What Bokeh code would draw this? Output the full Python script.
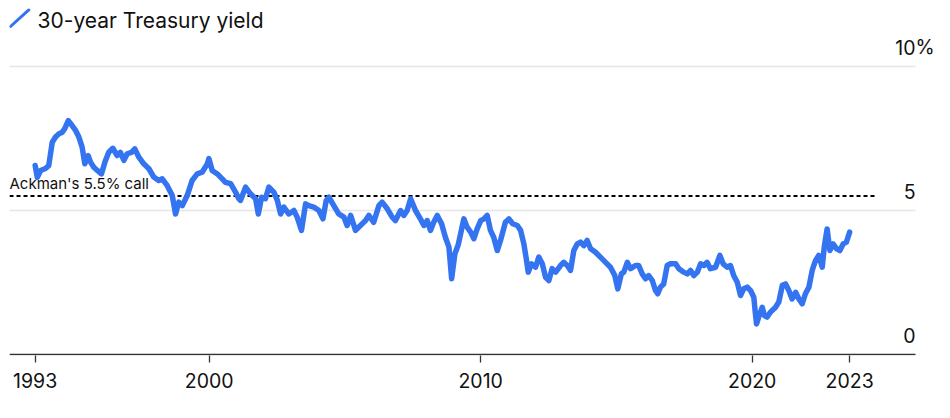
from bokeh.plotting import figure
from bokeh.models import FixedTicker, Range1d
from bokeh.core.properties import value
from bokeh.embed import file_html
from bokeh.resources import INLINE

# ---------------- data ----------------
TITLE = "30-year Treasury yield"
ANNOT = "Ackman's 5.5% call"
ACKMAN_CALL = 5.5

YEARS = [
    1993.59, 1993.67, 1993.79, 1993.97, 1994.09, 1994.22, 1994.34, 1994.46, 1994.59, 1994.68,
    1994.81, 1994.95, 1995.08, 1995.20, 1995.32, 1995.42, 1995.54, 1995.63, 1995.75, 1995.88,
    1996.03, 1996.16, 1996.30, 1996.45, 1996.61, 1996.73, 1996.86, 1996.98, 1997.14, 1997.26,
    1997.41, 1997.59, 1997.78, 1997.96, 1998.14, 1998.27, 1998.45, 1998.64, 1998.76, 1998.88,
    1999.01, 1999.19, 1999.37, 1999.56, 1999.74, 1999.93, 1999.99, 2000.11, 2000.30, 2000.48,
    2000.60, 2000.79, 2000.97, 2001.09, 2001.15, 2001.34, 2001.52, 2001.71, 2001.81, 2001.93,
    2002.07, 2002.20, 2002.38, 2002.51, 2002.63, 2002.75, 2002.93, 2003.12, 2003.24, 2003.40,
    2003.55, 2003.67, 2003.85, 2004.04, 2004.19, 2004.31, 2004.41, 2004.59, 2004.77, 2004.96,
    2005.08, 2005.21, 2005.39, 2005.57, 2005.76, 2005.88, 2006.06, 2006.25, 2006.37, 2006.56,
    2006.74, 2006.86, 2007.05, 2007.17, 2007.29, 2007.42, 2007.60, 2007.78, 2007.91, 2008.03,
    2008.15, 2008.27, 2008.40, 2008.56, 2008.70, 2008.83, 2008.93, 2009.05, 2009.17, 2009.38,
    2009.50, 2009.63, 2009.75, 2009.87, 2010.00, 2010.12, 2010.24, 2010.36, 2010.48, 2010.61,
    2010.73, 2010.91, 2011.04, 2011.18, 2011.35, 2011.47, 2011.59, 2011.68, 2011.75, 2011.87,
    2012.02, 2012.14, 2012.27, 2012.39, 2012.51, 2012.63, 2012.76, 2012.94, 2013.06, 2013.19,
    2013.31, 2013.43, 2013.56, 2013.68, 2013.80, 2013.92, 2014.05, 2014.23, 2014.41, 2014.60,
    2014.78, 2014.94, 2015.05, 2015.18, 2015.27, 2015.40, 2015.52, 2015.70, 2015.82, 2015.95,
    2016.07, 2016.19, 2016.32, 2016.44, 2016.52, 2016.62, 2016.74, 2016.87, 2016.99, 2017.18,
    2017.30, 2017.48, 2017.61, 2017.73, 2017.85, 2017.98, 2018.10, 2018.22, 2018.34, 2018.46,
    2018.65, 2018.81, 2018.93, 2019.08, 2019.20, 2019.32, 2019.45, 2019.57, 2019.69, 2019.82,
    2019.94, 2020.06, 2020.12, 2020.16, 2020.24, 2020.37, 2020.45, 2020.55, 2020.67, 2020.86,
    2020.98, 2021.11, 2021.23, 2021.35, 2021.47, 2021.60, 2021.72, 2021.84, 2021.96, 2022.09,
    2022.21, 2022.33, 2022.45, 2022.58, 2022.66, 2022.76, 2022.86, 2022.98, 2023.11, 2023.23,
    2023.35, 2023.47, 2023.59,
]
YIELDS = [
    6.56, 6.15, 6.39, 6.46, 6.56, 7.37, 7.55, 7.66, 7.72, 7.84,
    8.12, 7.95, 7.78, 7.55, 7.20, 6.62, 6.91, 6.68, 6.50, 6.39,
    6.27, 6.68, 7.02, 7.16, 6.91, 7.02, 6.74, 6.97, 7.02, 7.14,
    6.85, 6.62, 6.45, 6.16, 6.04, 6.10, 5.87, 5.52, 4.88, 5.29,
    5.17, 5.52, 6.04, 6.27, 6.33, 6.62, 6.80, 6.39, 6.27, 6.10,
    5.98, 5.93, 5.64, 5.41, 5.35, 5.81, 5.58, 5.41, 4.88, 5.46,
    5.41, 5.81, 5.64, 5.35, 4.88, 5.12, 4.88, 5.00, 4.77, 4.31,
    5.23, 5.17, 5.12, 5.00, 4.71, 5.35, 5.46, 5.17, 4.88, 4.77,
    4.48, 4.83, 4.31, 4.48, 4.65, 4.83, 4.59, 5.17, 5.29, 5.06,
    4.77, 4.65, 5.00, 4.83, 5.00, 5.41, 5.00, 4.71, 4.48, 4.65,
    4.31, 4.59, 4.83, 4.54, 4.07, 3.73, 2.63, 3.50, 3.80, 4.71,
    4.42, 4.25, 4.02, 4.36, 4.65, 4.71, 4.83, 4.31, 4.07, 3.61,
    3.96, 4.59, 4.71, 4.54, 4.48, 4.31, 3.84, 3.32, 2.86, 3.15,
    3.03, 3.38, 3.15, 2.68, 2.57, 2.98, 2.86, 3.09, 3.20, 3.09,
    2.92, 3.61, 3.84, 3.90, 3.78, 3.96, 3.67, 3.55, 3.38, 3.20,
    3.03, 2.74, 2.28, 2.80, 2.86, 3.20, 2.98, 3.09, 3.09, 2.80,
    2.63, 2.74, 2.57, 2.22, 2.11, 2.34, 2.45, 3.09, 3.15, 3.15,
    2.98, 2.86, 2.80, 2.92, 2.74, 2.86, 3.15, 3.09, 3.20, 2.98,
    3.03, 3.44, 3.15, 3.03, 3.09, 2.74, 2.51, 2.05, 2.28, 2.34,
    2.22, 1.99, 1.41, 1.06, 1.30, 1.64, 1.35, 1.30, 1.47, 1.64,
    1.82, 2.40, 2.45, 2.22, 1.93, 2.16, 1.93, 1.76, 2.11, 2.34,
    2.92, 3.26, 3.44, 3.03, 3.78, 4.36, 3.61, 3.84, 3.67, 3.61,
    3.84, 3.90, 4.25,
]

X_TICKS = [1993.59, 2000, 2010, 2020, 2023.59]
X_TICK_LABELS = ["1993", "2000", "2010", "2020", "2023"]
Y_TICKS = [0, 5, 10]
Y_TICK_LABELS = ["0", "5", "10"]
Y_GRID = [5, 10]

# ---------------- layout ----------------
FRAME_W, FRAME_H = 927, 347
PX_PER_YEAR = 27.15
PX_PER_UNIT = 28.8
X_START = 1992.645
X_END = X_START + FRAME_W / PX_PER_YEAR
Y_START = -1 / PX_PER_UNIT
Y_END = Y_START + FRAME_H / PX_PER_UNIT


def fx(px):  # pixels from the frame's left edge -> data x
    return X_START + px / PX_PER_YEAR


def fy(py):  # pixels from the frame's top edge -> data y
    return Y_END - py / PX_PER_UNIT


X_RIGHT = fx(906)
X_DASH_END = fx(865)

FONT = "Inter"
BLUE = "#3574f0"
INK = "#111111"

p = figure(frame_width=FRAME_W, frame_height=FRAME_H,
           output_backend="svg", toolbar_location=None,
           x_range=Range1d(X_START, X_END), y_range=Range1d(Y_START, Y_END),
           y_axis_location=None,
           min_border_left=9, min_border_right=0, min_border_top=8, min_border_bottom=50)
p.outline_line_color = None
p.grid.visible = False
p.background_fill_color = "white"
p.border_fill_color = "white"

# gridlines and baseline
p.segment(x0=[X_START] * len(Y_GRID), y0=Y_GRID, x1=[X_RIGHT] * len(Y_GRID), y1=Y_GRID,
          line_color="#e6e6e6", line_width=1.5)
p.segment(x0=[X_START], y0=[0], x1=[X_RIGHT], y1=[0], line_color="#333333", line_width=1.3)

# Ackman reference line
p.segment(x0=[X_START], y0=[ACKMAN_CALL], x1=[X_DASH_END], y1=[ACKMAN_CALL],
          line_color="black", line_width=2, line_dash="4 3")
p.text(x=[X_START], y=[ACKMAN_CALL], text=[ANNOT], text_baseline="alphabetic",
       y_offset=-12.5, text_font=value(FONT), text_font_size="15px", text_color=INK)

# yield line
p.line(YEARS, YIELDS, line_color=BLUE, line_width=5.5, line_join="round", line_cap="round")

# y labels (right, above gridlines)
p.text(x=[X_RIGHT] * len(Y_TICKS), y=Y_TICKS, text=Y_TICK_LABELS, text_align="right",
       text_baseline="alphabetic", y_offset=-19.5, text_font=value(FONT),
       text_font_size="19.5px", text_color=INK)
p.text(x=[X_RIGHT], y=[Y_TICKS[-1]], text=["%"], text_align="left",
       text_baseline="alphabetic", y_offset=-19.5, text_font=value(FONT),
       text_font_size="19.5px", text_color=INK)

# legend
p.segment(x0=[fx(1)], y0=[fy(18)], x1=[fx(19.3)], y1=[fy(1.3)], line_color=BLUE,
          line_width=3, line_cap="round")
p.text(x=[fx(28)], y=[fy(18.7)], text=[TITLE], text_baseline="alphabetic", y_offset=-6.5,
       text_font=value(FONT), text_font_size="21px", text_color=INK)

# x axis
ax = p.xaxis[0]
ax.ticker = FixedTicker(ticks=X_TICKS)
ax.major_label_overrides = dict(zip(X_TICKS, X_TICK_LABELS))
ax.axis_line_color = None
ax.major_tick_in = 0
ax.major_tick_out = 7
ax.major_tick_line_color = "#333333"
ax.major_tick_line_width = 1.3
ax.minor_tick_line_color = None
ax.major_label_text_font = FONT
ax.major_label_text_font_size = "19.5px"
ax.major_label_text_color = INK
ax.major_label_standoff = 10

open("out.html", "w").write(file_html(p, INLINE))
